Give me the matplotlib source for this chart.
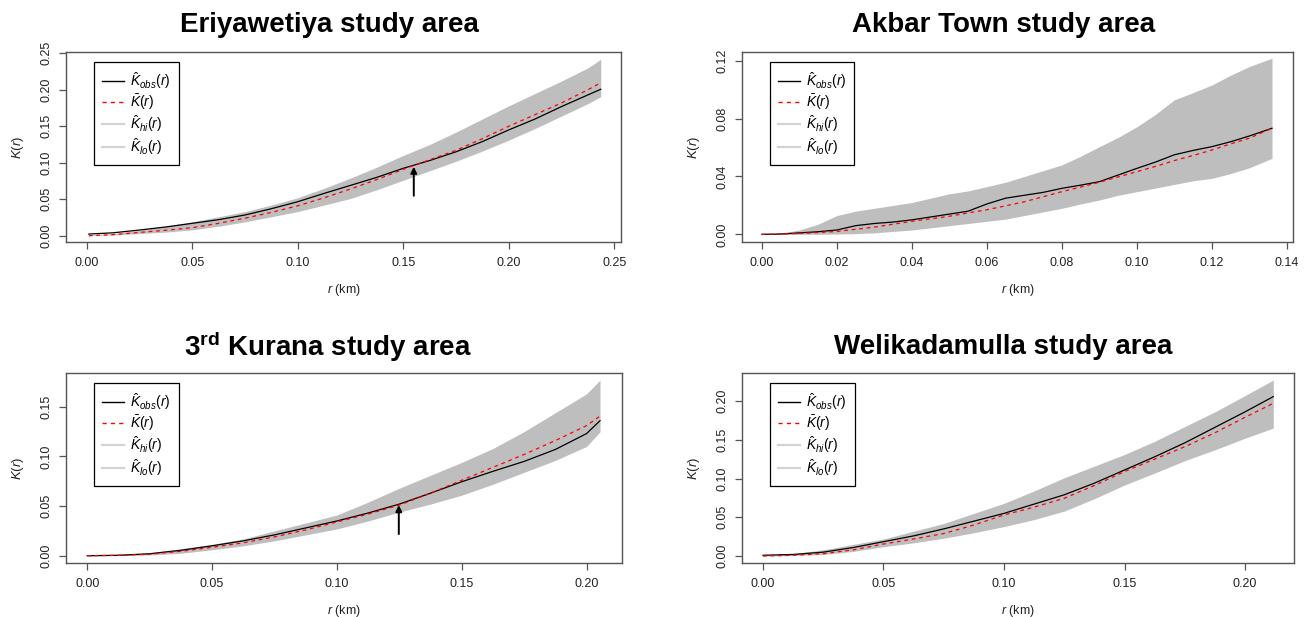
import matplotlib
matplotlib.use("Agg")
import matplotlib.pyplot as plt
from matplotlib.lines import Line2D
import numpy as np

plt.rcParams['font.family'] = ['Liberation Sans', 'DejaVu Sans']
plt.rcParams['mathtext.fontset'] = 'custom'
plt.rcParams['mathtext.rm'] = 'Liberation Sans'
plt.rcParams['mathtext.it'] = 'Liberation Sans:italic'
plt.rcParams['mathtext.bf'] = 'Liberation Sans:bold'

# ---------------- data ----------------
titles = ["Eriyawetiya study area", "Akbar Town study area",
          r"3$^{\mathbf{rd}}$ Kurana study area", "Welikadamulla study area"]

# Eriyawetiya
r1 = [0.001, 0.0125, 0.025, 0.0375, 0.05, 0.0625, 0.075, 0.0875, 0.10, 0.1125, 0.125,
      0.1375, 0.15, 0.1625, 0.175, 0.1875, 0.20, 0.2125, 0.225, 0.2375, 0.2436]
obs1 = [0.0023, 0.004, 0.0078, 0.012, 0.017, 0.022, 0.0284, 0.037, 0.0466, 0.058, 0.069,
        0.080, 0.0924, 0.103, 0.115, 0.129, 0.145, 0.160, 0.177, 0.193, 0.2007]
mean1 = [0.0, 0.0015, 0.0045, 0.0075, 0.011, 0.017, 0.024, 0.032, 0.041, 0.052, 0.064,
         0.077, 0.091, 0.104, 0.117, 0.133, 0.150, 0.166, 0.182, 0.200, 0.2097]
hi1 = [0.001, 0.003, 0.0075, 0.013, 0.019, 0.026, 0.033, 0.042, 0.052, 0.065, 0.079,
       0.094, 0.110, 0.125, 0.142, 0.160, 0.178, 0.195, 0.212, 0.230, 0.2418]
lo1 = [0.0, 0.001, 0.003, 0.005, 0.008, 0.013, 0.019, 0.026, 0.033, 0.042, 0.051,
       0.063, 0.076, 0.089, 0.102, 0.116, 0.131, 0.147, 0.164, 0.181, 0.1905]

# Akbar Town
r2 = [0.0, 0.005, 0.01, 0.015, 0.02, 0.025, 0.03, 0.035, 0.04, 0.045, 0.05, 0.055, 0.06,
      0.065, 0.07, 0.075, 0.08, 0.085, 0.09, 0.095, 0.10, 0.105, 0.11, 0.115, 0.12, 0.125,
      0.13, 0.136]
obs2 = [0.0, 0.0002, 0.001, 0.0018, 0.003, 0.006, 0.0075, 0.0085, 0.010, 0.012, 0.014,
        0.016, 0.021, 0.025, 0.027, 0.029, 0.0318, 0.034, 0.0364, 0.041, 0.0456, 0.050,
        0.055, 0.058, 0.0606, 0.064, 0.068, 0.0733]
mean2 = [0.0, 0.0002, 0.0006, 0.0012, 0.002, 0.0035, 0.005, 0.007, 0.009, 0.0107, 0.0125,
         0.0148, 0.017, 0.0197, 0.0225, 0.026, 0.0295, 0.0327, 0.036, 0.0397, 0.0433,
         0.047, 0.051, 0.0545, 0.0583, 0.0625, 0.0665, 0.0733]
hi2 = [0.0, 0.0008, 0.003, 0.007, 0.013, 0.016, 0.018, 0.020, 0.022, 0.025, 0.028, 0.030,
       0.033, 0.036, 0.040, 0.044, 0.048, 0.054, 0.0606, 0.067, 0.0744, 0.083, 0.093,
       0.098, 0.1032, 0.110, 0.116, 0.1217]
lo2 = [0.0, 0.0, 0.0, 0.0, 0.0002, 0.0005, 0.001, 0.002, 0.003, 0.0045, 0.006, 0.0075,
       0.009, 0.0105, 0.013, 0.0155, 0.018, 0.021, 0.0237, 0.027, 0.0295, 0.032, 0.0345,
       0.037, 0.0387, 0.042, 0.046, 0.0525]

# 3rd Kurana
r3 = [0.0, 0.0125, 0.025, 0.0375, 0.05, 0.0625, 0.075, 0.0875, 0.10, 0.1125, 0.125,
      0.1375, 0.15, 0.1625, 0.175, 0.1875, 0.20, 0.2054]
obs3 = [0.0, 0.0005, 0.002, 0.0055, 0.010, 0.015, 0.021, 0.028, 0.035, 0.043, 0.052,
        0.063, 0.0745, 0.085, 0.095, 0.107, 0.123, 0.136]
mean3 = [0.0, 0.0004, 0.0015, 0.0045, 0.0085, 0.013, 0.019, 0.026, 0.034, 0.042, 0.051,
         0.063, 0.076, 0.089, 0.102, 0.116, 0.131, 0.1406]
hi3 = [0.0, 0.001, 0.003, 0.007, 0.0115, 0.017, 0.025, 0.033, 0.041, 0.054, 0.068,
       0.081, 0.094, 0.108, 0.125, 0.144, 0.163, 0.1769]
lo3 = [0.0, 0.0001, 0.0008, 0.0025, 0.006, 0.010, 0.015, 0.021, 0.027, 0.035, 0.044,
       0.052, 0.061, 0.072, 0.084, 0.096, 0.110, 0.1248]

# Welikadamulla
r4 = [0.0, 0.0125, 0.025, 0.0375, 0.05, 0.0625, 0.075, 0.0875, 0.10, 0.1125, 0.125,
      0.1375, 0.15, 0.1625, 0.175, 0.1875, 0.20, 0.2117]
obs4 = [0.001, 0.002, 0.005, 0.011, 0.0185, 0.026, 0.035, 0.045, 0.055, 0.067, 0.079,
        0.094, 0.111, 0.128, 0.146, 0.166, 0.186, 0.2056]
mean4 = [0.0, 0.001, 0.003, 0.008, 0.0155, 0.022, 0.029, 0.040, 0.053, 0.063, 0.0745,
         0.091, 0.109, 0.125, 0.141, 0.159, 0.179, 0.197]
hi4 = [0.001, 0.003, 0.008, 0.015, 0.022, 0.032, 0.042, 0.055, 0.068, 0.084, 0.101,
       0.116, 0.131, 0.148, 0.167, 0.186, 0.207, 0.227]
lo4 = [0.0, 0.0005, 0.002, 0.006, 0.012, 0.017, 0.023, 0.030, 0.038, 0.047, 0.058,
       0.074, 0.0916, 0.107, 0.123, 0.137, 0.152, 0.165]

# arrows marking crossing points (r, tail K, tip K); None = no arrow
arrows = [(0.155, 0.0548, 0.0946), None, (0.1248, 0.0218, 0.051), None]

xticks_list = [[0.00, 0.05, 0.10, 0.15, 0.20, 0.25],
               [0.00, 0.02, 0.04, 0.06, 0.08, 0.10, 0.12, 0.14],
               [0.00, 0.05, 0.10, 0.15, 0.20],
               [0.00, 0.05, 0.10, 0.15, 0.20]]
yticks_list = [[0.00, 0.05, 0.10, 0.15, 0.20, 0.25],
               [0.00, 0.04, 0.08, 0.12],
               [0.00, 0.05, 0.10, 0.15],
               [0.00, 0.05, 0.10, 0.15, 0.20]]
xlims = [(-0.0098, 0.2532), (-0.0053, 0.1416), (-0.0085, 0.2142), (-0.0087, 0.2203)]
ylims = [(-0.0086, 0.2518), (-0.0053, 0.1260), (-0.0073, 0.1840), (-0.0090, 0.2361)]

series = [(r1, obs1, mean1, hi1, lo1), (r2, obs2, mean2, hi2, lo2),
          (r3, obs3, mean3, hi3, lo3), (r4, obs4, mean4, hi4, lo4)]

# ---------------- layout ----------------
W, H = 1310, 617
fig = plt.figure(figsize=(W / 100, H / 100), dpi=100)
fig.patch.set_facecolor('white')

boxes_px = [(66, 52, 621, 242), (742, 52, 1293, 242),
            (66, 373, 622, 563), (742, 373, 1294, 563)]
title_pos = [(329, 25), (1004, 25), (328, 347), (1003, 347)]

spine_col = '#555555'
band_col = '#bebebe'

for i in range(4):
    l, t, rr, b = boxes_px[i]
    ax = fig.add_axes([l / W, 1 - b / H, (rr - l) / W, (b - t) / H])
    r, obs, mean, hi, lo = series[i]
    r = np.asarray(r)
    ax.fill_between(r, lo, hi, color=band_col, linewidth=0, zorder=1)
    ax.plot(r, obs, color='black', lw=0.9, zorder=3)
    ax.plot(r, mean, color='red', lw=0.9, ls=(0, (3, 3)), zorder=4)
    if arrows[i] is not None:
        ar, tail, tip = arrows[i]
        ax.annotate('', xy=(ar, tip), xytext=(ar, tail),
                    arrowprops=dict(arrowstyle='-|>', color='black', lw=1.4,
                                    mutation_scale=9, shrinkA=0, shrinkB=0), zorder=5)
    ax.set_xlim(*xlims[i])
    ax.set_ylim(*ylims[i])
    ax.set_xticks(xticks_list[i])
    ax.set_yticks(yticks_list[i])
    ax.set_xticklabels([f"{v:.2f}" for v in xticks_list[i]])
    ax.set_yticklabels([f"{v:.2f}" for v in yticks_list[i]])
    for s in ax.spines.values():
        s.set_color(spine_col)
        s.set_linewidth(1.0)
    ax.tick_params(axis='both', direction='out', length=5, width=0.9,
                   color=spine_col, labelsize=9, labelcolor='#222222')
    ax.tick_params(axis='x', pad=6)
    ax.tick_params(axis='y', pad=5, labelrotation=90)
    for lab in ax.get_yticklabels():
        lab.set_va('center')
    ax.set_xlabel(r'$r$ (km)', fontsize=9, labelpad=9, color='#222222')
    ax.set_ylabel(r'$K(r)$', fontsize=9.5, labelpad=10, color='#222222')

    handles = [Line2D([], [], color='black', lw=1.0),
               Line2D([], [], color='red', lw=1.0, ls=(0, (3, 3))),
               Line2D([], [], color='#d3d3d3', lw=1.6),
               Line2D([], [], color='#d3d3d3', lw=1.6)]
    labels = [r'$\hat{K}_{obs}(r)$', r'$\bar{K}(r)$',
              r'$\hat{K}_{hi}(r)$', r'$\hat{K}_{lo}(r)$']
    lx = 0.05
    ly = 1 - 9.5 / (b - t)
    leg = ax.legend(handles, labels, loc='upper left', bbox_to_anchor=(lx, ly),
                    borderaxespad=0, fontsize=10, frameon=True, fancybox=False,
                    edgecolor='black', framealpha=1, handlelength=1.6,
                    handletextpad=0.4, labelspacing=0.12, borderpad=0.6)
    leg.get_frame().set_linewidth(0.9)

    tx, ty = title_pos[i]
    fig.text(tx / W, 1 - ty / H, titles[i], fontsize=20, fontweight='bold',
             ha='center', va='center')

fig.savefig('out.png', dpi=100)
